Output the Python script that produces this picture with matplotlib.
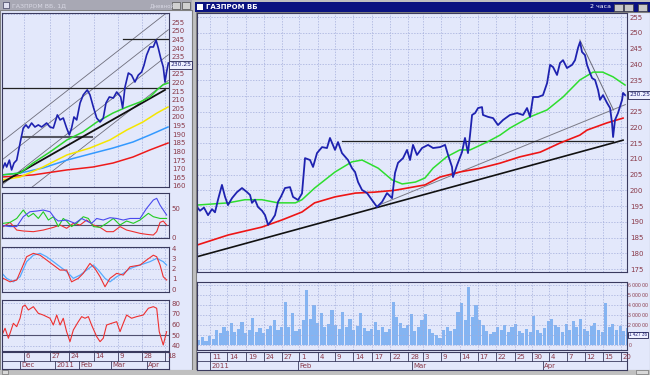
import numpy as np
import matplotlib
matplotlib.use('Agg')
import matplotlib.pyplot as plt
from matplotlib.patches import Rectangle

# ---------------- DATA ----------------
# Main chart (2-hour bars), x = bar index
MAIN_BAR = [0, 2.5, 5.8, 9.2, 12.5, 15, 17.5, 20.8, 23.3, 25.8, 29.2, 33.3, 37.5, 41.7, 44.2, 45.8, 48.3, 50.8,
            54.2, 56.7, 59.2, 62.5, 65, 67.5, 70, 73.3, 77.5, 80, 84.2, 87.5, 90, 94.2, 96.7, 100, 104.2, 108.3,
            110.8, 115, 117.5, 120.8, 125.8, 129.2, 131.7, 134.2, 137.5, 141.7, 145.8, 150, 154.2, 158.3, 162.5,
            165, 167.5, 171.7, 175, 177.5, 180, 183.3, 187.5, 192.5, 196.7, 202.5, 206.7, 209.2, 212.5, 213.3,
            216.7, 220.8, 223.3, 225.8, 227.5, 229.2, 231.7, 234.2, 237.5, 238.3, 242.5, 246.7, 250.8, 255,
            260.8, 266.7, 271.7, 275, 277.5, 280, 284.2, 288.3, 291.7, 294.2, 296.7, 300, 302.5, 305, 308.3,
            312.5, 315, 317.5, 319.2, 320.8, 323.3, 325, 327.5, 329.2, 331.7, 334.2, 335.8, 338.3, 341.7, 344.2,
            345.8, 346.7, 348.3, 350.8, 354.2, 355, 356.7]
MAIN_CLOSE = [194.7, 193.5, 194.5, 192.1, 194.0, 193.0, 197.0, 201.7, 198.0, 195.3, 197.5, 199.4, 200.7, 199.4,
              198.5, 196.0, 197.0, 194.7, 193.5, 192.1, 189.0, 190.6, 192.1, 196.3, 198.0, 200.7, 201.0, 197.9,
              196.9, 199.0, 210.2, 209.6, 207.4, 211.8, 213.7, 213.4, 216.6, 212.8, 215.3, 211.8, 209.6, 207.0,
              205.8, 202.6, 200.1, 199.1, 196.9, 194.7, 196.3, 199.1, 197.5, 205.5, 208.7, 210.2, 212.8, 209.6,
              214.4, 211.2, 213.4, 214.4, 213.4, 213.7, 214.4, 211.2, 207.4, 204.2, 208.0, 212.1, 216.6, 211.8,
              217.5, 223.9, 224.5, 226.1, 226.4, 223.9, 223.3, 222.9, 220.7, 222.3, 223.9, 224.5, 223.9, 226.1,
              223.3, 229.6, 229.6, 230.2, 234.0, 239.8, 239.1, 236.6, 240.4, 241.3, 238.8, 239.8, 241.3, 245.2,
              247.1, 243.9, 242.9, 239.8, 237.2, 235.6, 235.0, 231.8, 228.7, 230.2, 227.7, 226.1, 221.4, 216.9,
              222.3, 224.5, 228.7, 230.9, 230.2]
MAIN_MA_GREEN_BAR = [0, 26, 40, 54, 67.5, 82, 87.5, 98, 115, 129, 137.5, 151, 162.5, 171, 182, 190, 196.7, 208,
                     219, 227.5, 241.7, 252.5, 261, 277.5, 291.7, 305, 319, 330, 338, 346.7, 356.7]
MAIN_MA_GREEN = [195.3, 196.0, 197.0, 197.0, 196.0, 196.0, 197.0, 200.7, 205.8, 209.0, 209.6, 207.0, 203.3, 202.0,
                 202.6, 203.9, 207.0, 210.6, 212.8, 212.8, 215.3, 217.5, 219.8, 223.3, 225.5, 229.6, 235.0, 237.5,
                 237.5, 236.0, 233.4]
MAIN_MA_RED_BAR = [0, 26, 54, 71, 87.5, 98, 115, 132, 148, 165, 190, 202.5, 219, 236, 252.5, 269, 286, 302.5,
                   319, 325, 341.7, 355]
MAIN_MA_RED = [182.6, 185.8, 188.3, 190.6, 193.1, 196.0, 197.9, 199.1, 199.4, 200.0, 201.7, 204.2, 205.8, 207.0,
               208.6, 210.6, 212.1, 215.0, 217.5, 219.1, 221.4, 222.9]
MAIN_TREND_BAR, MAIN_TREND = [0, 355], [178.9, 215.9]
MAIN_GREY_BAR, MAIN_GREY = [151, 357], [195.2, 227.2]
MAIN_DOWN_BAR, MAIN_DOWN = [319, 347], [247.7, 225.5]
MAIN_HLINE_BAR, MAIN_HLINE = [121, 347], [215.6, 215.6]
MAIN_LAST = 230.25
MAIN_Y_TICKS = [175, 180, 185, 190, 195, 200, 205, 210, 215, 220, 225, 230, 235, 240, 245, 250, 255]

VOLUME = [500, 800, 400, 900, 600, 1500, 1200, 1800, 1400, 2200, 1300, 1600, 2300, 1200, 1500, 2700, 1300, 1700,
          1200, 1600, 1900, 2500, 1500, 1800, 4300, 1800, 3200, 1400, 1600, 2500, 5500, 2600, 4000, 2200, 3200,
          1800, 2100, 3500, 2000, 1600, 3300, 1800, 2600, 1500, 1900, 3200, 1700, 1400, 1600, 2300, 1500, 1800,
          1300, 1600, 4300, 2800, 2200, 1700, 2000, 3100, 1400, 1800, 2500, 3100, 1600, 1200, 1000, 700, 1500,
          1800, 1400, 1600, 3300, 4200, 2500, 5800, 2800, 4000, 2500, 2000, 1400, 1100, 1300, 1800, 1500, 2000,
          1300, 1800, 2100, 1400, 1200, 1600, 1300, 2900, 1500, 1200, 1700, 2400, 2600, 2000, 1800, 1300, 2100,
          1500, 2400, 1800, 2600, 1600, 1400, 1900, 2200, 1500, 1300, 4200, 1800, 2100, 1500, 1900, 1400, 1700]
VOLUME_STEP = 3
VOL_TICKS = [0, 2000, 3000, 4000, 5000, 6000]
VOL_TICK_LBL = ['0', '2 000 00', '3 000 00', '4 000 00', '5 000 00', '6 000 00']
VOL_LAST = 1000
VOL_LAST_LBL = '1 427 36'

MAIN_TICK_POS = [11, 25, 41, 56, 71, 85, 101, 115, 130, 146, 161, 176, 188, 203, 219, 234, 249, 265, 279, 293,
                 308, 323, 338, 353]
MAIN_TICK_LBL = ['11', '14', '19', '24', '27', '1', '4', '9', '14', '17', '22', '28', '3', '9', '14', '17', '22',
                 '25', '30', '4', '7', '12', '15', '20']
MAIN_MONTH_POS = [11, 84, 179, 288]
MAIN_MONTH_LBL = ['2011', 'Feb', 'Mar', 'Apr']

# Left chart (daily), x = day index
LEFT_DAY = [0, 1.9, 2.9, 4.6, 6.0, 7.5, 9.2, 10.2, 11.7, 13.3, 15.0, 16.5, 18.5, 20.6, 22.7, 24.8, 27.9, 30.0,
            32.1, 34.6, 36.3, 38.3, 40.4, 42.1, 43.5, 45.0, 46.7, 48.8, 50.8, 53.3, 55.0, 57.1, 59.2, 61.3, 63.3,
            65.0, 67.1, 69.6, 71.7, 74.2, 75.4, 76.9, 79.0, 81.0, 83.1, 85.2, 87.3, 88.8, 90.4, 92.5, 94.6, 96.3,
            97.7, 99.2, 100.8, 101.9, 102.9, 104.0]
LEFT_CLOSE = [169.3, 173.3, 171.0, 175.0, 169.3, 173.3, 175.0, 179.7, 186.7, 193.6, 195.4, 193.6, 196.5, 194.2,
              195.4, 194.2, 196.5, 194.2, 193.6, 201.2, 198.3, 199.4, 193.6, 189.6, 193.6, 200.0, 198.3, 208.1,
              212.8, 215.7, 212.8, 205.8, 199.4, 197.1, 199.4, 208.1, 211.6, 211.0, 214.5, 211.6, 205.2, 217.4,
              225.5, 224.3, 220.3, 224.3, 226.1, 230.1, 235.9, 240.6, 240.6, 244.6, 240.0, 234.2, 229.0, 220.3,
              226.1, 231.3]
LEFT_GREEN_DAY = [0, 11.3, 19.4, 30, 40.6, 50.6, 59.4, 69.4, 78.1, 86.3, 92.5, 96.9, 100.6, 103.8]
LEFT_GREEN = [166.4, 167.5, 173.3, 179.7, 186.7, 191.3, 197.1, 202.3, 205.8, 208.7, 211.6, 215.7, 218.6, 219.7]
LEFT_YELLOW_DAY = [0, 11.3, 25.6, 40.6, 55, 67.5, 78.1, 88.1, 96.9, 103.8]
LEFT_YELLOW = [163.5, 165.2, 171.0, 178.0, 182.0, 186.7, 192.5, 197.1, 202.3, 205.8]
LEFT_BLUE_DAY = [0, 11.3, 25.6, 40.6, 56.9, 69.4, 81.9, 92.5, 103.8]
LEFT_BLUE = [166.4, 167.5, 170.4, 175.0, 179.0, 182.0, 185.5, 189.6, 194.2]
LEFT_RED_DAY = [0, 19.4, 40.6, 56.9, 69.4, 81.9, 92.5, 103.8]
LEFT_RED = [165.2, 166.4, 169.3, 171.0, 173.3, 176.8, 180.9, 184.9]
LEFT_CHANNEL_DAY = [0, 104]
LEFT_CHANNELS = [[185.7, 261.2], [175.1, 250.6], [160.6, 236.1], [145.7, 221.2]]
LEFT_TREND_DAY, LEFT_TREND = [0.8, 101.9], [162.3, 215.7]
LEFT_H1_DAY, LEFT_H1 = [0, 104.4], [216.8, 216.8]
LEFT_H2_DAY, LEFT_H2 = [12.5, 56], [188.4, 188.4]
LEFT_H3_DAY, LEFT_H3 = [75.6, 103.8], [245.2, 245.2]
LEFT_LAST = 230.25
LEFT_Y_TICKS = [160, 165, 170, 175, 180, 185, 190, 195, 200, 205, 210, 215, 220, 225, 230, 235, 240, 245, 250, 255]

ADX_BLUE_DAY = [0.8, 5, 9.2, 13.3, 17.5, 21.7, 25.8, 30, 33.1, 35.2, 40.4, 45.6, 49.8, 52.9, 56, 59.2, 63.3, 67.5,
                71.7, 75.8, 80, 86.3, 90.4, 94.6, 96.7, 98.8, 102.9]
ADX_BLUE = [19.5, 18, 18, 35, 43.6, 44.8, 46.5, 43.6, 32, 27.6, 29.3, 23.6, 32, 27.6, 23.6, 32, 29.3, 33.3, 32,
            29.3, 32, 32, 49.4, 63.8, 66.7, 55, 38]
ADX_GREEN_DAY = [0.8, 5, 9.2, 13.3, 16.5, 19.6, 22.7, 25.8, 29, 32.1, 35.2, 38.3, 40.4, 43.5, 46.7, 50.8, 54, 57.1,
                 61.3, 65.4, 69.6, 73.8, 77.9, 82.1, 86.3, 91.5, 94.6, 98.8, 102.9]
ADX_GREEN = [23.6, 25.2, 32, 46.5, 35, 40.8, 32, 43.6, 29.3, 35, 18, 32, 27.6, 18, 23.6, 35, 32, 18, 16.6, 23.6,
             32, 20.7, 27.6, 23.6, 29.3, 40.8, 35, 32, 32]
ADX_RED_DAY = [0.8, 5, 9.2, 13.3, 19.6, 25.8, 32.1, 36.3, 40.4, 44.6, 48.8, 52.9, 57.1, 61.3, 65.4, 69.6, 73.8,
               77.9, 82.1, 86.3, 90.4, 94.6, 96.7, 98.8, 100.8, 102.9]
ADX_RED = [18, 25.2, 12, 10.4, 9.2, 12, 16.6, 20.7, 15, 23.6, 20.7, 29.3, 20.7, 16.6, 9.2, 9.2, 18, 12, 9.2, 6.3,
           4.6, 3.4, 9.2, 25.2, 27.6, 20.7]

MACD_RED_DAY = [0.8, 5, 9.2, 12.3, 15.4, 19.6, 23.8, 27.9, 32.1, 36.3, 40.4, 43.5, 47.7, 50.8, 55, 58.1, 61.3,
                64.4, 67.5, 71.7, 75.8, 80, 86.3, 90.4, 94.6, 96.7, 98.8, 100.8, 102.9]
MACD_RED = [1.04, 0.7, 0.88, 2.0, 3.15, 3.48, 3.3, 2.83, 2.34, 1.85, 1.85, 0.7, 1.04, 1.53, 2.5, 2.0, 1.2, 0.22,
            1.04, 1.53, 1.36, 2.17, 2.34, 2.83, 3.3, 3.15, 2.34, 1.2, 0.88]
MACD_BLUE_DAY = [0, 2.9, 7.1, 11.3, 15.4, 19.6, 23.8, 27.9, 32.1, 36.3, 40.4, 44.6, 48.8, 52.9, 57.1, 60.2, 64.4,
                 67.5, 71.7, 75.8, 80, 86.3, 92.5, 96.7, 100.8, 102.9]
MACD_BLUE = [1.53, 1.04, 0.7, 1.2, 2.67, 3.3, 3.48, 3.15, 2.67, 2.17, 1.7, 1.04, 1.36, 1.85, 2.34, 1.85, 1.04, 0.7,
             1.2, 1.53, 2.0, 2.34, 2.67, 2.99, 2.67, 2.34]

RSI_DAY = [0, 1.9, 4, 7.1, 9.2, 11.3, 12.9, 14.4, 16.5, 19.6, 22.7, 25.8, 30, 32.1, 34.2, 36.3, 38.3, 40.4, 42.5,
           44.6, 47.7, 49.8, 51.9, 54, 56, 59.2, 61.3, 63.3, 65.4, 68.5, 71.7, 73.8, 75.8, 77.9, 81, 84.2, 88.3,
           91.5, 94.6, 96.7, 98.3, 100.8, 102.9]
RSI = [50.2, 56.5, 47.2, 61.1, 58, 65.8, 76.6, 78.1, 73.5, 76.6, 70.4, 68.8, 65.8, 59.5, 68.8, 59.5, 65.8, 53.3, 44,
       54.9, 62.6, 67.3, 65.8, 67.3, 59.5, 48.7, 44, 47.2, 59.5, 61.1, 62.6, 53.3, 61.1, 68.8, 65.8, 67.3, 68.8,
       75.1, 76.6, 75.1, 53.3, 40.9, 53.3]

LEFT_TICK_POS = [14, 30, 42, 57.5, 72.5, 87.5, 102]
LEFT_TICK_LBL = ['6', '27', '24', '14', '9', '28', '18']
LEFT_MONTH_POS = [11.3, 33, 48, 68, 90.5]
LEFT_MONTH_LBL = ['Dec', '2011', 'Feb', 'Mar', 'Apr']

# ---------------- STYLE ----------------
W, H = 650, 375
BG = '#e3e8fb'
GRID = '#a2acda'
FRAME = '#3a3a5e'
LBL = '#8a3a4a'
FS = 5

fig = plt.figure(figsize=(6.5, 3.75), dpi=100)
fig.patch.set_facecolor('#c0c0c0')


def pax(x0, y0, x1, y1):
    a = fig.add_axes([x0 / W, 1 - y1 / H, (x1 - x0) / W, (y1 - y0) / H])
    a.set_facecolor(BG)
    for s in a.spines.values():
        s.set_color(FRAME)
        s.set_linewidth(0.8)
    return a


# window chrome
bg = fig.add_axes([0, 0, 1, 1])
bg.set_zorder(-10)
bg.set_xlim(0, W)
bg.set_ylim(H, 0)
bg.axis('off')
bg.add_patch(Rectangle((0, 10), 192, 360, fc=BG, ec='#808080', lw=0.8))
bg.add_patch(Rectangle((0, 0), 192, 10, fc='#a8a8b4', ec='none'))
bg.add_patch(Rectangle((3, 2), 6, 6, fc='#e0e0f0', ec='#404060', lw=0.5))
bg.text(12, 5.2, 'ГАЗПРОМ ВБ, 1Д', fontsize=4.5, color='#d8d8e4', va='center')
bg.text(150, 5.2, 'Дневной', fontsize=4, color='#d8d8e4', va='center')
for bx in (172, 182):
    bg.add_patch(Rectangle((bx, 2), 8, 6.5, fc='#d0d0d0', ec='#505050', lw=0.5))
bg.add_patch(Rectangle((196, 12), 454, 358, fc=BG, ec='#808080', lw=0.8))
bg.add_patch(Rectangle((195, 2), 455, 10, fc='#0a1280', ec='none'))
bg.add_patch(Rectangle((197, 4), 6, 6, fc='white', ec='none'))
bg.text(206, 7, 'ГАЗПРОМ ВБ', fontsize=5, color='white', fontweight='bold', va='center')
bg.text(611, 7, '2 часа', fontsize=4.5, color='white', va='center', ha='right')
for bx in (614, 624, 638):
    bg.add_patch(Rectangle((bx, 4), 9, 7, fc='#c8c8c8', ec='#404040', lw=0.5))
bg.add_patch(Rectangle((0, 370), 650, 5, fc='#c0c0c0', ec='none'))
bg.add_patch(Rectangle((2, 370), 6, 4, fc='#d8d8d8', ec='#606060', lw=0.4))
bg.add_patch(Rectangle((636, 370), 12, 4, fc='#d8d8d8', ec='#606060', lw=0.4))


def style_price(a, ticks, yt, grid_minor=None, hide=None):
    a.set_xticks(ticks)
    a.set_yticks(yt)
    a.set_yticklabels(['' if (hide is not None and v == hide) else str(v) for v in yt])
    a.yaxis.tick_right()
    a.tick_params(axis='both', which='both', length=0, labelsize=FS, labelcolor=LBL, pad=2,
                  labelbottom=False)
    a.grid(True, axis='x', color=GRID, lw=0.5, ls=(0, (2, 2)))
    if grid_minor is not None:
        a.set_yticks(grid_minor, minor=True)
        a.grid(True, axis='y', which='minor', color=GRID, lw=0.5, ls=(0, (2, 2)))
    else:
        a.grid(True, axis='y', color=GRID, lw=0.5, ls=(0, (2, 2)))


def value_box(a, v, txt, fs=4.5):
    a.text(1.006, v, txt, transform=a.get_yaxis_transform(), fontsize=fs, color='#1a1a70',
           va='center', ha='left', clip_on=False,
           bbox=dict(boxstyle='square,pad=0.2', fc='#eef0ff', ec='#202050', lw=0.6))


def date_strip(x0, y0, x1, y1, xlim, ticks, tl, months, ml, off):
    a = pax(x0, y0, x1, y1)
    a.set_xlim(*xlim)
    a.set_ylim(0, 2)
    a.set_xticks([])
    a.set_yticks([])
    a.axhline(1, color=FRAME, lw=0.6)
    for p, l in zip(ticks, tl):
        a.plot([p, p], [1, 2], color=FRAME, lw=0.6)
        a.text(p + off, 1.48, l, fontsize=FS, color=LBL, va='center', ha='left', clip_on=False)
    for p, l in zip(months, ml):
        a.plot([p, p], [0, 1], color=FRAME, lw=0.6)
        a.text(p + off, 0.45, l, fontsize=FS, color=LBL, va='center', ha='left', clip_on=False)
    return a


# ---------------- MAIN PRICE ----------------
MX = (0, 358.3)
ax = pax(197, 13, 627, 272)
ax.set_xlim(*MX)
ax.set_ylim(174.05, 256.27)
style_price(ax, MAIN_TICK_POS, MAIN_Y_TICKS, hide=230)
ax.plot(MAIN_TREND_BAR, MAIN_TREND, color='#111111', lw=1.2)
ax.plot(MAIN_GREY_BAR, MAIN_GREY, color='#7a7a86', lw=0.7)
ax.plot(MAIN_DOWN_BAR, MAIN_DOWN, color='#6a6a76', lw=0.7)
ax.plot(MAIN_HLINE_BAR, MAIN_HLINE, color='#222222', lw=0.9)
ax.plot(MAIN_MA_RED_BAR, MAIN_MA_RED, color='#ee1515', lw=1.2)
ax.plot(MAIN_MA_GREEN_BAR, MAIN_MA_GREEN, color='#2ede2e', lw=1.1)
ax.plot(MAIN_BAR, MAIN_CLOSE, color='#1e22b0', lw=1.3)
value_box(ax, MAIN_LAST, f'{MAIN_LAST:.2f}', fs=4.3)

# ---------------- VOLUME ----------------
av = pax(197, 282, 627, 350)
av.set_xlim(*MX)
av.set_ylim(-500, 6300)
vx = np.arange(len(VOLUME)) * VOLUME_STEP + VOLUME_STEP / 2
av.bar(vx, VOLUME, width=VOLUME_STEP * 0.85, color='#84b4f2', edgecolor='none')
av.set_xticks(MAIN_TICK_POS)
av.set_yticks(VOL_TICKS)
av.set_yticklabels(VOL_TICK_LBL, family='Liberation Sans')
av.set_yticks([VOL_LAST], minor=True)
av.yaxis.tick_right()
av.tick_params(axis='both', which='both', length=0, labelsize=3.6, labelcolor=LBL, pad=1.0, labelbottom=False)
av.grid(True, which='both', color=GRID, lw=0.5, ls=(0, (2, 2)))
av.text(1.004, VOL_LAST, VOL_LAST_LBL, transform=av.get_yaxis_transform(), fontsize=3.3, color='#1a1a70',
        family='Liberation Sans', va='center', ha='left', clip_on=False,
        bbox=dict(boxstyle='square,pad=0.15', fc='#eef0ff', ec='#202050', lw=0.6))

date_strip(197, 352, 627, 370, MX, MAIN_TICK_POS, MAIN_TICK_LBL, MAIN_MONTH_POS, MAIN_MONTH_LBL, 1.5)

# ---------------- LEFT PRICE ----------------
LX = (0, 104.4)
al = pax(2, 13, 169, 187)
al.set_xlim(*LX)
al.set_ylim(159.4, 260.3)
style_price(al, LEFT_TICK_POS, LEFT_Y_TICKS, grid_minor=np.arange(160, 261, 10), hide=230)
for ch in LEFT_CHANNELS:
    al.plot(LEFT_CHANNEL_DAY, ch, color='#6e6e7c', lw=0.6)
al.plot(LEFT_H1_DAY, LEFT_H1, color='#222222', lw=0.9)
al.plot(LEFT_H2_DAY, LEFT_H2, color='#555560', lw=1.5)
al.plot(LEFT_H3_DAY, LEFT_H3, color='#222222', lw=0.9)
al.plot(LEFT_RED_DAY, LEFT_RED, color='#ee1a1a', lw=1.1)
al.plot(LEFT_BLUE_DAY, LEFT_BLUE, color='#3399ff', lw=1.1)
al.plot(LEFT_YELLOW_DAY, LEFT_YELLOW, color='#f5e600', lw=1.1)
al.plot(LEFT_TREND_DAY, LEFT_TREND, color='#111111', lw=1.3)
al.plot(LEFT_GREEN_DAY, LEFT_GREEN, color='#2ed62e', lw=1.1)
al.plot(LEFT_DAY, LEFT_CLOSE, color='#1e22b0', lw=1.2)
value_box(al, LEFT_LAST, f'{LEFT_LAST:.2f}', fs=4.3)

# ADX-like panel
a1 = pax(2, 193, 169, 238)
a1.set_xlim(*LX)
a1.set_ylim(-1.7, 75.9)
style_price(a1, LEFT_TICK_POS, [0, 50])
a1.axhline(20, color='#505070', lw=0.8)
a1.plot(ADX_RED_DAY, ADX_RED, color='#ee3030', lw=0.8)
a1.plot(ADX_GREEN_DAY, ADX_GREEN, color='#22cc22', lw=0.8)
a1.plot(ADX_BLUE_DAY, ADX_BLUE, color='#4a4aee', lw=0.8)

# MACD-like panel
a2 = pax(2, 247, 169, 292)
a2.set_xlim(*LX)
a2.set_ylim(-0.29, 4.1)
style_price(a2, LEFT_TICK_POS, [0, 1, 2, 3, 4])
a2.plot(MACD_BLUE_DAY, MACD_BLUE, color='#55aaff', lw=0.9)
a2.plot(MACD_RED_DAY, MACD_RED, color='#ee3030', lw=0.8)

# RSI-like panel
a3 = pax(2, 300, 169, 351)
a3.set_xlim(*LX)
a3.set_ylim(35.3, 82.8)
style_price(a3, LEFT_TICK_POS, [40, 50, 60, 70, 80])
a3.axhline(50, color='#505070', lw=0.8)
a3.plot(RSI_DAY, RSI, color='#ee3030', lw=0.8)

date_strip(2, 352, 169, 369, LX, LEFT_TICK_POS, LEFT_TICK_LBL, LEFT_MONTH_POS, LEFT_MONTH_LBL, 1.0)

fig.savefig('out.png', dpi=100, facecolor=fig.get_facecolor())
